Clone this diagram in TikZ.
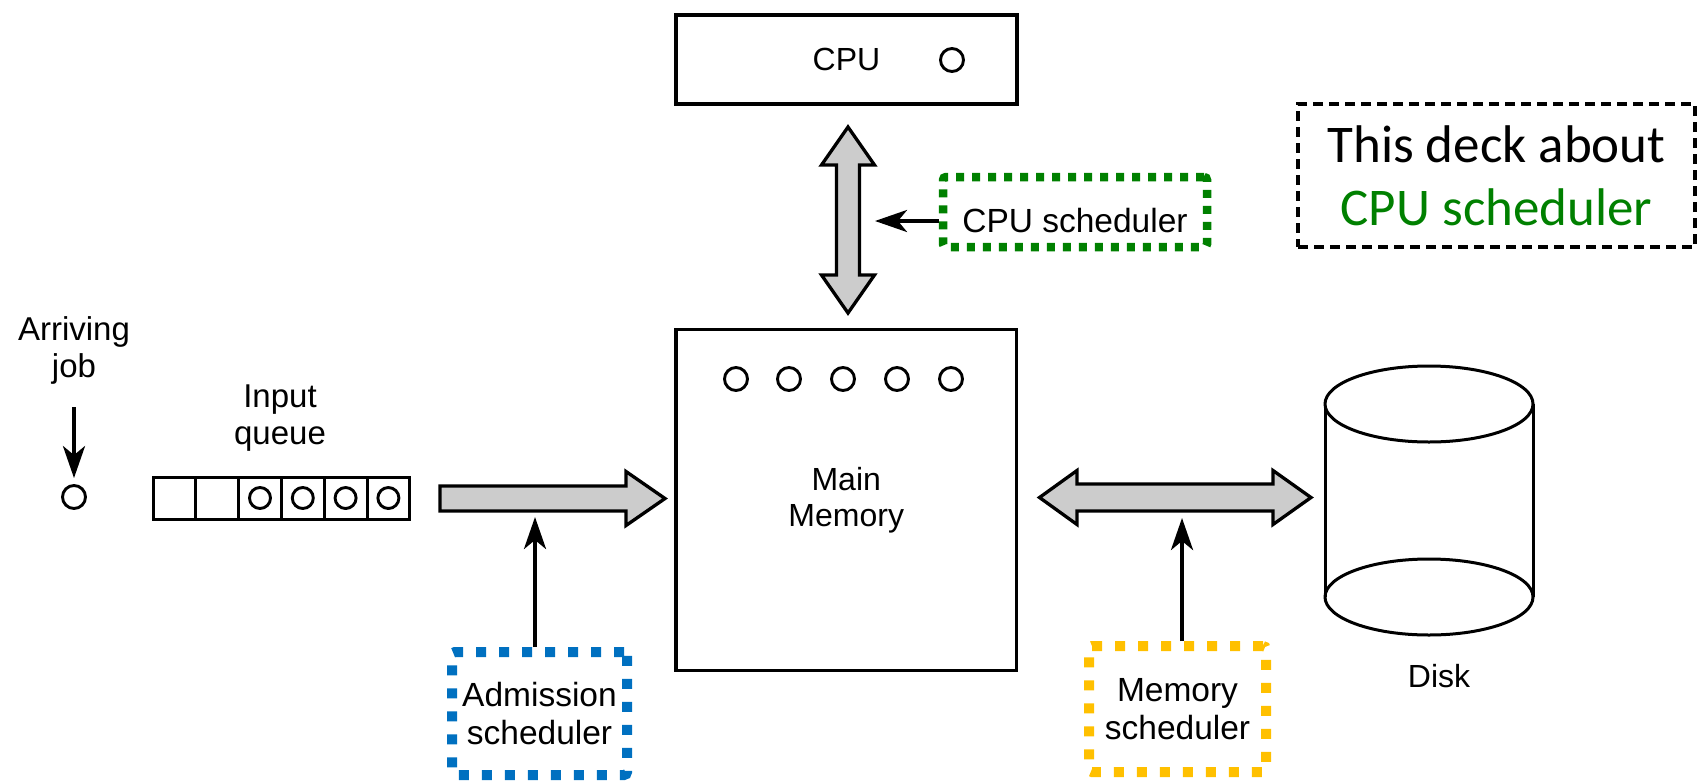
\documentclass[tikz,border=0pt]{standalone}
\usepackage{fontspec}
\setmainfont{Liberation Sans}
\newfontfamily\calib{Carlito}
\usetikzlibrary{arrows.meta}
\definecolor{oblue}{HTML}{0070C0}
\definecolor{ogreen}{HTML}{008000}
\definecolor{ogold}{HTML}{FFC000}
\begin{document}
\begin{tikzpicture}[x=1pt,y=-1pt,
  lbl/.style={font=\fontsize{33}{37}\selectfont, align=center, inner sep=0pt},
  blk/.style={draw, line width=3.5pt, inner sep=0pt},
  ring/.style={circle, draw, line width=2.9pt, minimum size=23pt, inner sep=0pt},
  fat/.style={draw, line width=3.3pt, fill=gray!40, line join=miter},
  ptr/.style={line width=4pt, -{Stealth[length=32pt,width=22pt,inset=9pt]}},
  sched/.style={line width=10pt, dash pattern=on 10pt off 13pt, rounded corners=3pt,
    font=\fontsize{33.5}{38}\selectfont, align=center, inner sep=0pt}
]
\useasboundingbox (0,0) rectangle (1699,782);

% CPU
\node[blk, minimum width=341pt, minimum height=89pt, font=\fontsize{32}{36}\selectfont] (cpu) at (846.5,59.5) {CPU};
\node[ring] (cpuc) at (952,60) {};

% Main memory
\node[blk, minimum width=340.5pt, minimum height=341pt, align=center, font=\fontsize{32}{36}\selectfont] (mem) at (846.25,500) {Main\\Memory};
\foreach \x [count=\i] in {736,789,843,897,951} \node[ring] (m\i) at (\x,379) {};

% Arriving job
\node[lbl] (arrlbl) at (74,350) {Arriving\\job};
\node[ring] (job) at (74,497) {};
\coordinate (arrstart) at (74,407);
\draw[ptr, shorten >=6pt] (arrstart) -- (job.north);

% Input queue
\node[lbl] (inq) at (280,418) {Input\\queue};
\foreach \i in {1,...,6}
  \node[draw, line width=3pt, minimum width=42.8pt, minimum height=42pt, inner sep=0pt] (q\i) at ({153+42.8*(\i-0.5)},498) {};
\foreach \i in {3,...,6}
  \node[ring, minimum size=21pt] (qc\i) at (q\i) {};

% Fat arrow queue -> memory
\draw[fat] (440,486) -- (626,486) -- (626,471.5) -- (665,498.5) -- (626,525.5) -- (626,511) -- (440,511) -- cycle;

% Fat double arrow CPU <-> memory
\draw[fat] (848,127) -- (874.5,165) -- (859.5,165) -- (859.5,275) -- (874.5,275) -- (848,313)
  -- (821.5,275) -- (836.5,275) -- (836.5,165) -- (821.5,165) -- cycle;

% Fat double arrow memory <-> disk
\draw[fat] (1039.5,497.5) -- (1077,470.5) -- (1077,484) -- (1273,484) -- (1273,470.5) -- (1311,497.5)
  -- (1273,524.5) -- (1273,511) -- (1077,511) -- (1077,524.5) -- cycle;

% Disk
\draw[line width=3pt] (1325,404) -- (1325,597) (1533,404) -- (1533,597);
\draw[line width=3pt, fill=white] (1429,404) ellipse [x radius=104pt, y radius=38pt];
\draw[line width=3pt] (1429,597) ellipse [x radius=104pt, y radius=38pt];
\node[lbl, font=\fontsize{32}{36}\selectfont] (disk) at (1439,676) {Disk};

% Schedulers
\node[sched, draw=oblue, minimum width=175pt, minimum height=123pt] (adm) at (539.5,713.5) {Admission\\scheduler};
\coordinate (admTip) at (535,517);
\draw[ptr] (admTip |- adm.north) -- (admTip);

\node[sched, draw=ogold, minimum width=177pt, minimum height=126pt] (msch) at (1177.5,709) {Memory\\scheduler};
\coordinate (mTip) at (1182,518);
\draw[ptr] (mTip |- msch.north) -- (mTip);

\node[sched, draw=ogreen, line width=8.5pt, dash pattern=on 8pt off 8pt, minimum width=264pt, minimum height=70pt, text height=40pt, text depth=0pt] (csch) at (1075,212) {CPU scheduler};
\coordinate (cTip) at (875,221);
\draw[ptr] (csch.west |- cTip) -- (cTip);

% Deck note
\node[draw, line width=4pt, dash pattern=on 10pt off 6pt, minimum width=397pt, minimum height=143pt,
  align=center, inner sep=0pt, font=\calib\fontsize{53}{63}\selectfont] (deck) at (1496.5,175.5)
  {This deck about\\\textcolor{ogreen}{CPU scheduler}};
\end{tikzpicture}
\end{document}
